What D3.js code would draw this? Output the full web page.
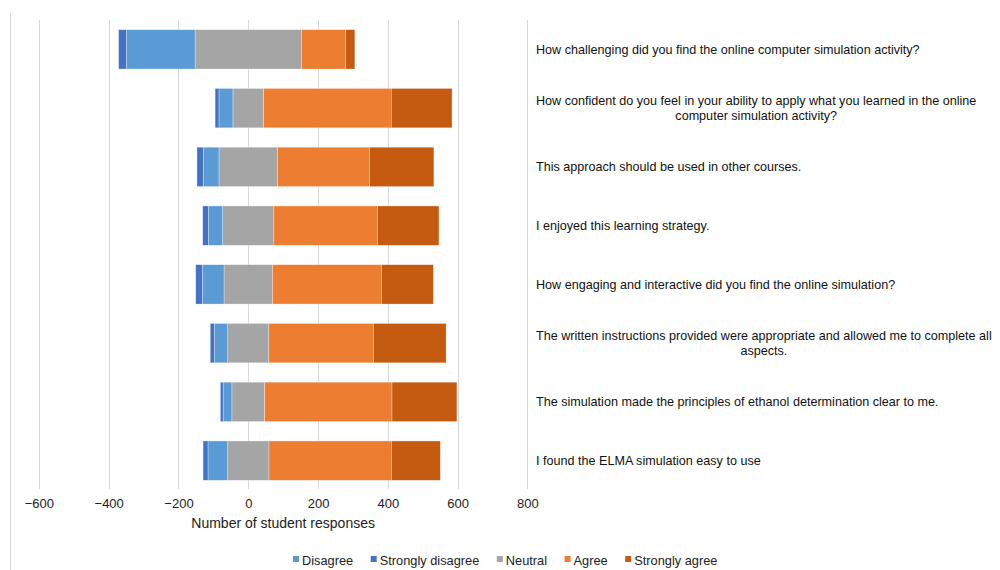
<!DOCTYPE html>
<html>
<head>
<meta charset="utf-8">
<script src="https://cdn.jsdelivr.net/npm/d3@7"></script>
<style>
  body { margin: 0; background: #fff; }
  svg { display: block; font-family: "Liberation Sans", Arial, sans-serif; }
</style>
</head>
<body>
<svg id="chart" width="1000" height="570"></svg>
<script>
const questions = [
  "How challenging did you find the online computer simulation activity?",
  "How confident do you feel in your ability to apply what you learned in the online\ncomputer simulation activity?",
  "This approach should be used in other courses.",
  "I enjoyed this learning strategy.",
  "How engaging and interactive did you find the online simulation?",
  "The written instructions provided were appropriate and allowed me to complete all\naspects.",
  "The simulation made the principles of ethanol determination clear to me.",
  "I found the ELMA simulation easy to use"
];
const stronglyDisagree = [22, 11, 18, 16, 19, 12, 8, 14];
const disagree = [197, 40, 45, 41, 62, 38, 25, 56];
const neutral = [305, 88, 168, 147, 139, 118, 94, 119];
const agree = [127, 366, 264, 297, 313, 300, 365, 351];
const stronglyAgree = [26, 174, 184, 176, 148, 208, 186, 140];
const xTicks = [-600, -400, -200, 0, 200, 400, 600, 800];

const legendNames = ["Disagree", "Strongly disagree", "Neutral", "Agree", "Strongly agree"];
const colors = {
  "Disagree": "#5B9BD5",
  "Strongly disagree": "#4472C4",
  "Neutral": "#A5A5A5",
  "Agree": "#ED7D31",
  "Strongly agree": "#C55A11"
};

const svg = d3.select("#chart");

const x = d3.scaleLinear().domain([-600, 800]).range([38.9, 527.4]);
const y = d3.scaleBand().domain(questions).range([20, 490]).paddingInner(0.33).paddingOuter(0.165);

// left border line
svg.append("line")
  .attr("x1", 10.5).attr("x2", 10.5).attr("y1", 13).attr("y2", 570)
  .attr("stroke", "#d9d9d9").attr("stroke-width", 1);

// gridlines
svg.append("g")
  .selectAll("line")
  .data(xTicks)
  .join("line")
  .attr("x1", d => Math.round(x(d)) + 0.5)
  .attr("x2", d => Math.round(x(d)) + 0.5)
  .attr("y1", 20).attr("y2", 489)
  .attr("stroke", "#d9d9d9").attr("stroke-width", 1);

// build segments for each row
const rows = questions.map((q, i) => {
  const n = neutral[i];
  const segs = [];
  let left = -n / 2;
  segs.push({ key: "Neutral", x0: -n / 2, x1: n / 2 });
  segs.push({ key: "Disagree", x0: left - disagree[i], x1: left });
  left -= disagree[i];
  segs.push({ key: "Strongly disagree", x0: left - stronglyDisagree[i], x1: left });
  let right = n / 2;
  segs.push({ key: "Agree", x0: right, x1: right + agree[i] });
  right += agree[i];
  segs.push({ key: "Strongly agree", x0: right, x1: right + stronglyAgree[i] });
  return { q, segs };
});

svg.append("g")
  .selectAll("g")
  .data(rows)
  .join("g")
  .attr("transform", d => `translate(0,${y(d.q)})`)
  .selectAll("rect")
  .data(d => d.segs)
  .join("rect")
  .attr("x", d => x(d.x0))
  .attr("width", d => x(d.x1) - x(d.x0))
  .attr("y", 0)
  .attr("height", y.bandwidth())
  .attr("fill", d => colors[d.key])
  .attr("stroke", "rgba(255,255,255,0.5)")
  .attr("stroke-width", 0.6);

// x axis tick labels
const axis = svg.append("g")
  .attr("transform", "translate(0,496)")
  .call(d3.axisBottom(x).tickValues(xTicks).tickSize(0).tickPadding(0).tickFormat(d3.format("d")));
axis.select(".domain").remove();
axis.selectAll("text")
  .attr("dy", 12)
  .attr("font-size", "13px")
  .attr("font-family", "'Liberation Sans', Arial, sans-serif")
  .attr("fill", "#222");

svg.append("text")
  .attr("x", x(100)).attr("y", 528)
  .attr("text-anchor", "middle")
  .attr("font-size", "14px")
  .attr("fill", "#222")
  .text("Number of student responses");

// category labels on the right
const labelX = 536;
rows.forEach(r => {
  const lines = r.q.split("\n");
  const cy = y(r.q) + y.bandwidth() / 2;
  const g = svg.append("g");
  const texts = lines.map((line, j) =>
    g.append("text")
      .attr("y", cy + (j - (lines.length - 1) / 2) * 15 + 4.5)
      .attr("font-size", "12.6px")
      .attr("fill", "#111")
      .text(line));
  const maxW = d3.max(texts, t => t.node().getComputedTextLength());
  texts.forEach(t => t.attr("x", labelX + maxW / 2).attr("text-anchor", "middle"));
});

// legend
const legend = svg.append("g").attr("transform", "translate(0,565)");
let lx = 293;
legendNames.forEach(name => {
  legend.append("rect")
    .attr("x", lx).attr("y", -9).attr("width", 6).attr("height", 6)
    .attr("fill", colors[name]);
  const t = legend.append("text")
    .attr("x", lx + 9).attr("y", 0)
    .attr("font-size", "12.8px")
    .attr("fill", "#222")
    .text(name);
  lx += 9 + t.node().getComputedTextLength() + 17.5;
});
</script>
</body>
</html>
